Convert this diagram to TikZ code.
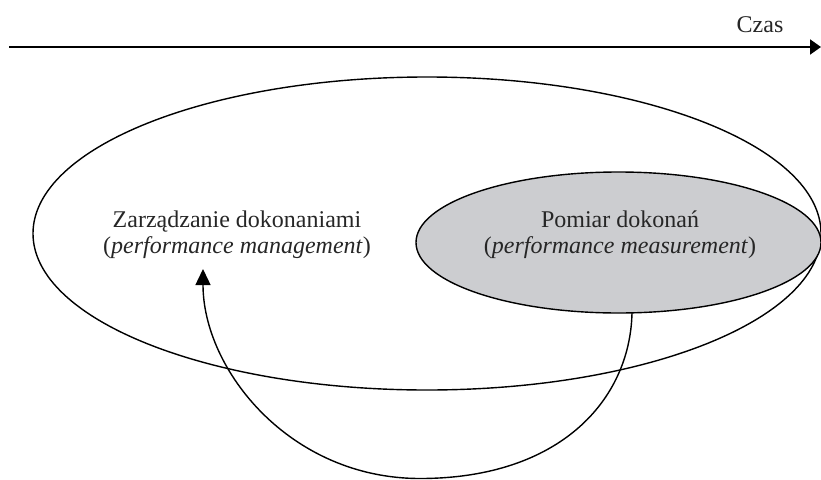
\documentclass[tikz,border=0pt]{standalone}
\usepackage{fontspec}
\setmainfont{Liberation Serif}
\usetikzlibrary{arrows.meta,shapes.geometric}
\definecolor{measgray}{RGB}{204,205,208}
\begin{document}
\begin{tikzpicture}[x=1pt,y=1pt,
  txt/.style={font=\fontsize{24}{26}\selectfont, align=center, inner sep=0pt, text=black!85},
  oval/.style={ellipse, draw=black, line width=1.4pt, inner sep=0pt},
  conn/.style={line width=1.4pt, -{Triangle[length=16pt,width=15pt]}}]
\useasboundingbox (0,0) rectangle (821,-479);
% time axis
\coordinate (t0) at (9,-47);
\coordinate (t1) at (821,-47);
\draw[line width=2pt, -{Triangle[length=11pt,width=15pt]}] (t0) -- (t1);
\node[txt, anchor=base] (czas) at (760,-32) {Czas};
% big ellipse
\node[oval, minimum width=788pt, minimum height=313pt] (mgmt) at (427,-233.5) {};
% gray ellipse
\node[oval, fill=measgray, minimum width=405pt, minimum height=141pt] (meas) at (618.5,-242.5) {};
% labels
\node[txt] (mgmtlbl) at (237,-235) {Zarządzanie dokonaniami\\(\textit{performance management})};
\node[txt] (measlbl) at (620,-235) {Pomiar dokonań\\(\textit{performance measurement})};
% feedback arrow
\coordinate (fs) at (632,-313);
\coordinate (fb) at (420,-478.5);
\coordinate (fe) at (203,-269);
\draw[conn] (fs) .. controls (630,-400) and (560,-478.5) .. (fb)
  .. controls (290,-478.5) and (203,-370) .. (fe);
\end{tikzpicture}
\end{document}
